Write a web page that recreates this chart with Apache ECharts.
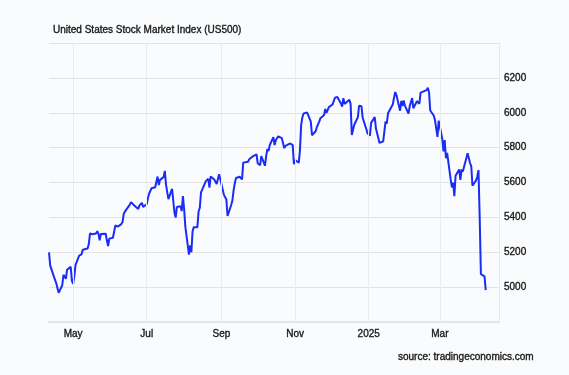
<!DOCTYPE html>
<html>
<head>
<meta charset="utf-8">
<script src="https://cdn.jsdelivr.net/npm/echarts@6/dist/echarts.min.js"></script>
<style>
html,body{margin:0;padding:0;background:#fafbfc;}
#c{width:569px;height:375px;}
</style>
</head>
<body>
<div id="c"></div>
<script>
const titleText = "United States Stock Market Index (US500)";
const sourceText = "source: tradingeconomics.com";

const dates = [
"2024-04-11","2024-04-12","2024-04-15","2024-04-16","2024-04-17","2024-04-18","2024-04-19","2024-04-22","2024-04-23","2024-04-24","2024-04-25","2024-04-26","2024-04-29","2024-04-30",
"2024-05-01","2024-05-02","2024-05-03","2024-05-06","2024-05-07","2024-05-08","2024-05-09","2024-05-10","2024-05-13","2024-05-14","2024-05-15","2024-05-16","2024-05-17","2024-05-20","2024-05-21","2024-05-22","2024-05-23","2024-05-24","2024-05-28","2024-05-29","2024-05-30","2024-05-31",
"2024-06-03","2024-06-04","2024-06-05","2024-06-06","2024-06-07","2024-06-10","2024-06-11","2024-06-12","2024-06-13","2024-06-14","2024-06-17","2024-06-18","2024-06-20","2024-06-21","2024-06-24","2024-06-25","2024-06-26","2024-06-27","2024-06-28",
"2024-07-01","2024-07-02","2024-07-03","2024-07-05","2024-07-08","2024-07-09","2024-07-10","2024-07-11","2024-07-12","2024-07-15","2024-07-16","2024-07-17","2024-07-18","2024-07-19","2024-07-22","2024-07-23","2024-07-24","2024-07-25","2024-07-26","2024-07-29","2024-07-30","2024-07-31",
"2024-08-01","2024-08-02","2024-08-05","2024-08-06","2024-08-07","2024-08-08","2024-08-09","2024-08-12","2024-08-13","2024-08-14","2024-08-15","2024-08-16","2024-08-19","2024-08-20","2024-08-21","2024-08-22","2024-08-23","2024-08-26","2024-08-27","2024-08-28","2024-08-29","2024-08-30",
"2024-09-03","2024-09-04","2024-09-05","2024-09-06","2024-09-09","2024-09-10","2024-09-11","2024-09-12","2024-09-13","2024-09-16","2024-09-17","2024-09-18","2024-09-19","2024-09-20","2024-09-23","2024-09-24","2024-09-25","2024-09-26","2024-09-27","2024-09-30",
"2024-10-01","2024-10-02","2024-10-03","2024-10-04","2024-10-07","2024-10-08","2024-10-09","2024-10-10","2024-10-11","2024-10-14","2024-10-15","2024-10-16","2024-10-17","2024-10-18","2024-10-21","2024-10-22","2024-10-23","2024-10-24","2024-10-25","2024-10-28","2024-10-29","2024-10-30","2024-10-31",
"2024-11-01","2024-11-04","2024-11-05","2024-11-06","2024-11-07","2024-11-08","2024-11-11","2024-11-12","2024-11-13","2024-11-14","2024-11-15","2024-11-18","2024-11-19","2024-11-20","2024-11-21","2024-11-22","2024-11-25","2024-11-26","2024-11-27","2024-11-29",
"2024-12-02","2024-12-03","2024-12-04","2024-12-05","2024-12-06","2024-12-09","2024-12-10","2024-12-11","2024-12-12","2024-12-13","2024-12-16","2024-12-17","2024-12-18","2024-12-19","2024-12-20","2024-12-23","2024-12-24","2024-12-26","2024-12-27","2024-12-30","2024-12-31",
"2025-01-02","2025-01-03","2025-01-06","2025-01-07","2025-01-08","2025-01-10","2025-01-13","2025-01-14","2025-01-15","2025-01-16","2025-01-17","2025-01-21","2025-01-22","2025-01-23","2025-01-24","2025-01-27","2025-01-28","2025-01-29","2025-01-30","2025-01-31",
"2025-02-03","2025-02-04","2025-02-05","2025-02-06","2025-02-07","2025-02-10","2025-02-11","2025-02-12","2025-02-13","2025-02-14","2025-02-18","2025-02-19","2025-02-20","2025-02-21","2025-02-24","2025-02-25","2025-02-26","2025-02-27","2025-02-28",
"2025-03-03","2025-03-04","2025-03-05","2025-03-06","2025-03-07","2025-03-10","2025-03-11","2025-03-12","2025-03-13","2025-03-14","2025-03-17","2025-03-18","2025-03-19","2025-03-20","2025-03-21","2025-03-24","2025-03-25","2025-03-26","2025-03-27","2025-03-28","2025-03-31",
"2025-04-01","2025-04-02","2025-04-03","2025-04-04","2025-04-07","2025-04-08"
];

const values = [
5199,5123,5062,5051,5022,5011,4967,5011,5071,5072,5048,5100,5116,5036,
5018,5064,5128,5181,5188,5188,5214,5223,5221,5247,5308,5297,5303,5308,5321,5307,5268,5305,5306,5267,5235,5278,
5283,5291,5354,5353,5347,5361,5375,5421,5434,5432,5473,5487,5473,5465,5448,5469,5478,5483,5460,
5475,5509,5537,5567,5573,5577,5634,5585,5615,5631,5667,5588,5545,5505,5564,5556,5427,5399,5459,5464,5436,5522,
5447,5347,5186,5240,5200,5319,5344,5344,5434,5455,5543,5554,5608,5597,5621,5571,5635,5617,5626,5592,5592,5648,
5529,5520,5503,5408,5471,5496,5554,5596,5626,5633,5635,5618,5714,5703,5719,5733,5722,5745,5738,5762,
5709,5710,5700,5751,5696,5751,5792,5780,5815,5860,5815,5842,5841,5865,5854,5851,5797,5810,5808,5824,5833,5814,5705,
5729,5713,5783,5929,5973,5996,6001,5984,5985,5949,5871,5894,5917,5917,5949,5969,5987,6022,5999,6032,
6047,6050,6086,6075,6090,6053,6035,6084,6051,6051,6074,6051,5872,5867,5931,5974,6040,6038,5971,5907,5882,
5869,5942,5975,5909,5918,5827,5836,5843,5950,5937,5997,6049,6086,6119,6101,6012,6068,6039,6071,6041,
5995,6038,6061,6084,6026,6066,6069,6052,6115,6115,6130,6144,6118,6013,5983,5955,5956,5862,5955,
5850,5778,5843,5739,5770,5615,5572,5599,5522,5639,5675,5615,5675,5663,5668,5768,5777,5712,5693,5581,5612,
5633,5671,5397,5074,5062,4983
];

const monthTicks = ["2024-05-01","2024-07-01","2024-09-01","2024-11-01","2025-01-01","2025-03-01"];
const monthLabels = ["May","Jul","Sep","Nov","2025","Mar"];
const yTicks = [5000,5200,5400,5600,5800,6000,6200];

const chart = echarts.init(document.getElementById('c'), null, {renderer:'canvas'});
const toTs = d => Date.parse(d + "T00:00:00Z");
const tickTs = monthTicks.map(toTs);
const seriesData = dates.map((d,i) => [toTs(d), values[i]]);
const labelFont = {fontFamily:'"Liberation Sans", Arial, sans-serif', fontSize:10, fontWeight:'normal', color:'#1a1a1a', textBorderColor:'#1a1a1a', textBorderWidth:0.35};

chart.setOption({
  backgroundColor:'#fafbfc',
  animation:false,
  title:[
    {text:titleText, left:53, top:25, padding:0, textStyle:Object.assign({}, labelFont)},
    {text:sourceText, left:398, top:352, padding:0, textStyle:Object.assign({}, labelFont)}
  ],
  grid:{left:49, right:70, top:43, bottom:53},
  xAxis:{
    type:'value',
    min:toTs("2024-04-11"),
    max:toTs("2025-04-19"),
    axisLine:{show:true, lineStyle:{color:'#e2e5ea', width:2}},
    axisTick:{show:false},
    splitLine:{show:false},
    axisLabel:Object.assign({
      customValues:tickTs,
      hideOverlap:false,
      margin:7,
      formatter:function(v){ const i = tickTs.indexOf(v); return i>=0 ? monthLabels[i] : ''; }
    }, labelFont)
  },
  yAxis:{
    type:'value',
    position:'right',
    min:4800, max:6400, interval:200,
    axisLine:{show:true, lineStyle:{color:'#e6e8ec', width:1}},
    axisTick:{show:false},
    splitLine:{show:true, lineStyle:{color:'#e4e4e4', width:1}},
    axisLabel:Object.assign({
      margin:5,
      formatter:function(v){ return yTicks.indexOf(v)>=0 ? String(v) : ''; }
    }, labelFont)
  },
  series:[
    {
      type:'line', z:1, silent:true,
      data:[seriesData[0]], symbol:'none', lineStyle:{opacity:0},
      markLine:{
        silent:true, symbol:['none','none'], label:{show:false},
        lineStyle:{color:'#e8ebf0', width:1, type:'solid'},
        data: tickTs.map(t => ({xAxis:t}))
      }
    },
    {
      type:'line', z:3,
      data:seriesData,
      symbol:'none',
      lineStyle:{color:'#1a2cf5', width:2},
      itemStyle:{color:'#1a2cf5'}
    }
  ]
});
</script>
</body>
</html>
